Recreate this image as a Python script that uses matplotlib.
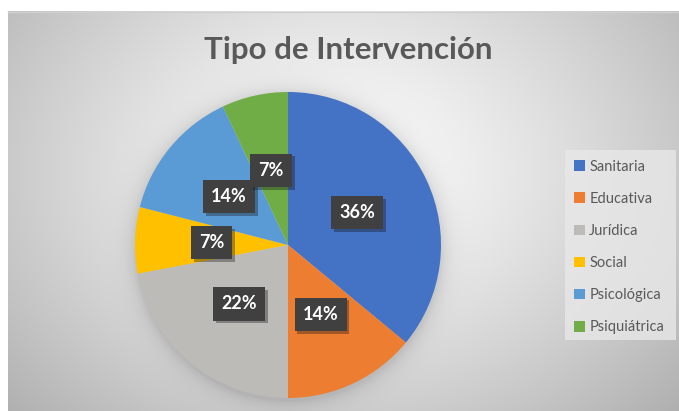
import numpy as np
import matplotlib
matplotlib.use("Agg")
import matplotlib.pyplot as plt
import matplotlib.patheffects as pe
from matplotlib.patches import Rectangle

plt.rcParams['font.family'] = ['Lato', 'DejaVu Sans']

categories = ["Sanitaria", "Educativa", "Jurídica", "Social", "Psicológica", "Psiquiátrica"]
values = [36, 14, 22, 7, 14, 7]
colors = ["#4472C4", "#ED7D31", "#BCBBB8", "#FFC000", "#5B9BD5", "#70AD47"]
title = "Tipo de Intervención"

W, H = 679, 411
fig = plt.figure(figsize=(W / 100, H / 100), dpi=100)

# background: radial gradient chart area with soft pie shadow
cx, cy, R = 288, 245, 153
yy, xx = np.mgrid[0:H, 0:W].astype(float)
d = np.sqrt(((xx - 340) / 430) ** 2 + ((yy - 170) / 330) ** 2)
bg = 252 - 70 * np.clip(d, 0, 1.2) ** 1.3
rr = np.sqrt((xx - cx) ** 2 + (yy - cy - 2) ** 2)
shadow = np.where(rr > R - 2, 28 * np.exp(-np.clip(rr - R, 0, None) / 9.0), 28)
bg = bg - shadow
bg[:12, :] = 255
bg[:, :8] = 255
bg = np.clip(bg, 0, 255) / 255.0
bgax = fig.add_axes([0, 0, 1, 1])
bgax.imshow(np.dstack([bg, bg, bg]), extent=[0, W, H, 0], aspect='auto', interpolation='bilinear')
bgax.plot([8, W], [12.5, 12.5], color="#d0d0d0", lw=1)
bgax.set_xlim(0, W)
bgax.set_ylim(H, 0)
bgax.axis('off')

# title
fig.text(348 / W, 1 - 50 / H, title, ha='center', va='center', fontsize=22.5,
         fontweight='bold', color="#595959")

# pie
ax = fig.add_axes([(cx - R) / W, (H - cy - R) / H, 2 * R / W, 2 * R / H])
wedges, texts, autotexts = ax.pie(values, colors=colors, startangle=90, counterclock=False,
                                  radius=1, autopct='%1.0f%%', pctdistance=0.5,
                                  textprops=dict(color='white', fontsize=13, fontweight='bold'))
for t in autotexts:
    t.set_bbox(dict(boxstyle='square,pad=0.45', facecolor='#404040', edgecolor='none'))
    t.get_bbox_patch().set_path_effects([pe.SimplePatchShadow(offset=(2, -2), alpha=0.35), pe.Normal()])
ax.set_xlim(-1, 1)
ax.set_ylim(-1, 1)
ax.axis('off')

# legend
lx0, ly0, lx1, ly1 = 565, 150, 676, 340
bgax.add_patch(Rectangle((lx0, ly0), lx1 - lx0, ly1 - ly0, facecolor="#e8e8e8", edgecolor='none', alpha=0.8))
leg = fig.legend(wedges, categories, loc='upper left',
                 bbox_to_anchor=(568 / W, 1 - 154 / H), frameon=False,
                 handlelength=0.75, handleheight=0.75, handletextpad=0.3,
                 labelspacing=1.24, fontsize=10.5, labelcolor="#595959", borderaxespad=0)

fig.savefig("out.png", dpi=100)
